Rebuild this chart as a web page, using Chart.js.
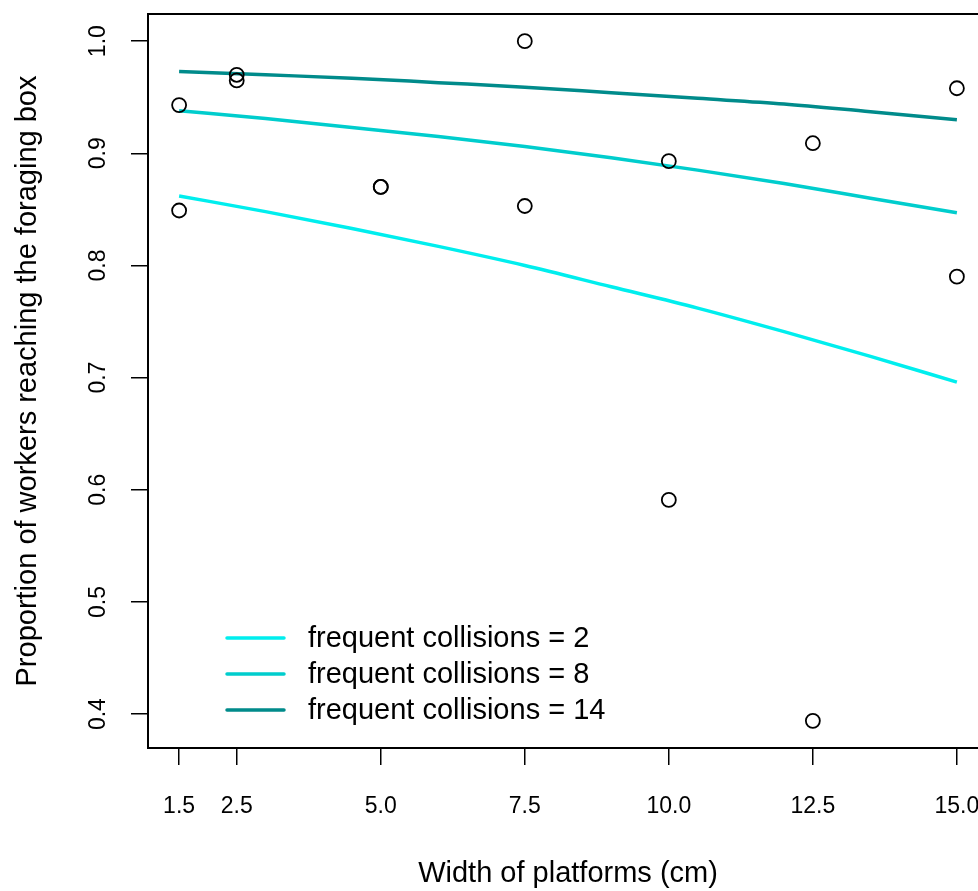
<!DOCTYPE html>
<html>
<head>
<meta charset="utf-8">
<script src="https://cdn.jsdelivr.net/npm/chart.js@4/dist/chart.umd.min.js"></script>
<style>
  html, body { margin: 0; padding: 0; background: #fff; overflow: hidden; }
  #wrap { position: absolute; left: 0; top: 0; width: 1000px; height: 891px; }
</style>
</head>
<body>
<div id="wrap"><canvas id="c" width="1000" height="891"></canvas></div>
<script>
// ---- data ----
const xTickValues = [1.5, 2.5, 5, 7.5, 10, 12.5, 15];
const yTickValues = [0.4, 0.5, 0.6, 0.7, 0.8, 0.9, 1.0];

const obsWidth = [1.5, 1.5, 2.5, 2.5, 5, 5, 7.5, 7.5, 10, 10, 12.5, 12.5, 15, 15];
const obsProp  = [0.943, 0.849, 0.970, 0.965, 0.870, 0.870, 1.000, 0.853, 0.893, 0.591, 0.909, 0.394, 0.958, 0.790];

const curveWidth = [1.5, 3, 4.5, 6, 7.5, 9, 10.5, 12, 13.5, 15];
const curveC2  = [0.862, 0.848, 0.833, 0.817, 0.800, 0.781, 0.762, 0.741, 0.719, 0.696];
const curveC8  = [0.938, 0.931, 0.923, 0.915, 0.906, 0.896, 0.885, 0.873, 0.860, 0.847];
const curveC14 = [0.973, 0.970, 0.967, 0.963, 0.959, 0.954, 0.949, 0.944, 0.937, 0.930];

const seriesLabels = ['frequent collisions = 2', 'frequent collisions = 8', 'frequent collisions = 14'];
const seriesColors = ['#00EEEE', '#00CDCD', '#008B8B'];

const xTitle = 'Width of platforms (cm)';
const yTitle = 'Proportion of workers reaching the foraging box';

// ---- build ----
const FONT = "'Liberation Sans', Arial, Helvetica, sans-serif";
const toXY = (xs, ys) => xs.map((x, i) => ({ x: x, y: ys[i] }));
const curves = [curveC2, curveC8, curveC14];

const lineSets = curves.map((c, i) => ({
  type: 'line',
  label: seriesLabels[i],
  data: toXY(curveWidth, c),
  borderColor: seriesColors[i],
  backgroundColor: seriesColors[i],
  borderWidth: 3.5,
  pointRadius: 0,
  cubicInterpolationMode: 'monotone',
  fill: false,
  order: 1,
  isCurve: true
}));

const pointSet = {
  type: 'scatter',
  label: 'observed',
  data: toXY(obsWidth, obsProp),
  pointStyle: 'circle',
  pointRadius: 7,
  pointBorderWidth: 1.8,
  pointBorderColor: '#000',
  pointBackgroundColor: 'rgba(0,0,0,0)',
  borderColor: '#000',
  backgroundColor: 'rgba(0,0,0,0)',
  showLine: false,
  order: 0
};

const boxPlugin = {
  id: 'rbox',
  afterDraw(chart) {
    const a = chart.chartArea, ctx = chart.ctx;
    ctx.save();
    ctx.strokeStyle = '#000';
    ctx.lineWidth = 2;
    ctx.strokeRect(a.left, a.top, a.right - a.left, a.bottom - a.top);
    ctx.restore();
  }
};

const legendPlugin = {
  id: 'rlegend',
  afterDraw(chart) {
    const ctx = chart.ctx;
    ctx.save();
    ctx.font = '29px ' + FONT;
    ctx.textBaseline = 'middle';
    ctx.textAlign = 'left';
    const sets = chart.data.datasets.filter(d => d.isCurve);
    const x0 = 227, x1 = 284, tx = 308;
    const rowY = [638, 674, 710];
    sets.forEach((d, i) => {
      ctx.strokeStyle = d.borderColor;
      ctx.lineWidth = 3.5;
      ctx.lineCap = 'round';
      ctx.beginPath();
      ctx.moveTo(x0, rowY[i]);
      ctx.lineTo(x1, rowY[i]);
      ctx.stroke();
      ctx.fillStyle = '#000';
      ctx.fillText(d.label, tx, rowY[i] + 1);
    });
    ctx.restore();
  }
};

new Chart(document.getElementById('c'), {
  data: { datasets: [pointSet, ...lineSets] },
  options: {
    responsive: false,
    animation: false,
    events: [],
    layout: { padding: { left: 0, top: 14, right: 12, bottom: 0 } },
    plugins: { legend: { display: false }, tooltip: { enabled: false } },
    scales: {
      x: {
        type: 'linear',
        position: 'bottom',
        min: 0.96,
        max: 15.54,
        afterBuildTicks(s) { s.ticks = xTickValues.map(v => ({ value: v })); },
        afterFit(s) { s.height = 143; s.paddingLeft = 0; s.paddingRight = 0; },
        ticks: {
          autoSkip: false,
          maxRotation: 0,
          minRotation: 0,
          padding: 28,
          color: '#000',
          font: { family: FONT, size: 23 },
          callback: v => Number(v).toFixed(1)
        },
        grid: { drawOnChartArea: false, drawTicks: true, tickLength: 17, color: '#000', lineWidth: 1.5 },
        border: { display: false },
        title: { display: true, text: xTitle, color: '#000', font: { family: FONT, size: 29 }, padding: { top: 0, bottom: 0 } }
      },
      y: {
        type: 'linear',
        position: 'left',
        min: 0.3698,
        max: 1.0242,
        afterBuildTicks(s) { s.ticks = yTickValues.map(v => ({ value: v })); },
        afterFit(s) { s.width = 148; s.paddingTop = 0; s.paddingBottom = 0; },
        ticks: {
          autoSkip: false,
          minRotation: 90,
          maxRotation: 90,
          crossAlign: 'center',
          padding: 16,
          color: '#000',
          font: { family: FONT, size: 23 },
          callback: v => Number(v).toFixed(1)
        },
        grid: { drawOnChartArea: false, drawTicks: true, tickLength: 17, color: '#000', lineWidth: 1.5 },
        border: { display: false },
        title: { display: true, text: yTitle, color: '#000', font: { family: FONT, size: 29 }, padding: { top: 11, bottom: 0 } }
      }
    }
  },
  plugins: [boxPlugin, legendPlugin]
});
</script>
</body>
</html>
